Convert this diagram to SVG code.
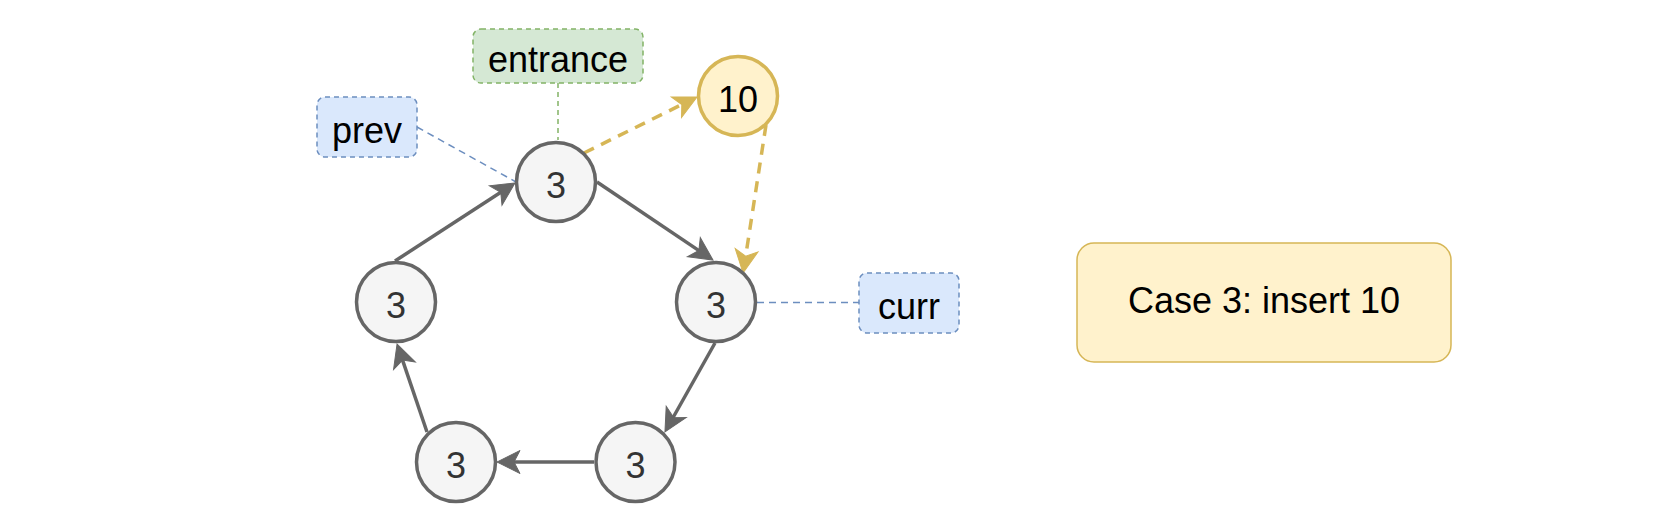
<svg xmlns="http://www.w3.org/2000/svg" width="1666" height="522" viewBox="0 0 1666 522">
  <style>
    text { font-family: "Liberation Sans", Arial, sans-serif; font-size: 36px; text-anchor: middle; }
    .node circle { fill: #f5f5f5; stroke: #666666; stroke-width: 3.5; }
    .node text { fill: #333333; }
    .new circle { fill: #fff2cc; stroke: #d6b656; stroke-width: 3.5; }
    .new text { fill: #000000; }
    .ptr rect { fill: #dae8fc; stroke: #6c8ebf; stroke-width: 1.5; stroke-dasharray: 5 4; }
    .ent rect { fill: #d5e8d4; stroke: #82b366; stroke-width: 1.5; stroke-dasharray: 5 4; }
    .case rect { fill: #fff2cc; stroke: #d6b656; stroke-width: 1.5; }
    .lbl { fill: #000000; }
    .edge { fill: none; stroke: #666666; stroke-width: 3.5; marker-end: url(#arrGray); }
    .ins { fill: none; stroke: #d6b656; stroke-width: 3.5; stroke-dasharray: 11 8; marker-end: url(#arrGold); }
    .blue { fill: none; stroke: #6c8ebf; stroke-width: 1.5; stroke-dasharray: 7 5; }
    .green { fill: none; stroke: #82b366; stroke-width: 1.5; stroke-dasharray: 5 4; }
  </style>
  <defs>
    <marker id="arrGray" markerUnits="userSpaceOnUse" viewBox="-25 -13 27 26" refX="-16" refY="0" markerWidth="27" markerHeight="26" orient="auto">
      <path d="M0,0 L-23,-11.5 L-17,0 L-23,11.5 Z" fill="#666666" stroke="#666666" stroke-width="1"/>
    </marker>
    <marker id="arrGold" markerUnits="userSpaceOnUse" viewBox="-25 -13 27 26" refX="-16" refY="0" markerWidth="27" markerHeight="26" orient="auto">
      <path d="M0,0 L-23,-11.5 L-17,0 L-23,11.5 Z" fill="#d6b656" stroke="#d6b656" stroke-width="1"/>
    </marker>
  </defs>
  <rect width="1666" height="522" fill="#ffffff"/>

  <g id="connectors">
    <line class="edge" x1="395" y1="261" x2="501.6" y2="191.7"/>
    <line class="edge" x1="597" y1="182" x2="699.7" y2="251.1"/>
    <line class="edge" x1="715" y1="343" x2="672.8" y2="418"/>
    <line class="edge" x1="594" y1="462" x2="513" y2="462"/>
    <line class="edge" x1="427" y1="432" x2="402.2" y2="359.1"/>
    <line class="ins" x1="584" y1="153" x2="682.7" y2="104.1"/>
    <line class="ins" x1="766" y1="125" x2="745.5" y2="257.2"/>
    <line class="blue" x1="417" y1="127" x2="516" y2="182"/>
    <line class="green" x1="558" y1="83" x2="558" y2="140"/>
    <line class="blue" x1="757" y1="302.5" x2="859" y2="302.5"/>
  </g>

  <g id="node-top" class="node">
    <circle cx="556" cy="182" r="39.5"/>
    <text x="556" y="198">3</text>
  </g>
  <g id="node-right" class="node">
    <circle cx="716" cy="302" r="39.5"/>
    <text x="716" y="318">3</text>
  </g>
  <g id="node-bottom-right" class="node">
    <circle cx="635.5" cy="462" r="39.5"/>
    <text x="635.5" y="478">3</text>
  </g>
  <g id="node-bottom-left" class="node">
    <circle cx="456" cy="462" r="39.5"/>
    <text x="456" y="478">3</text>
  </g>
  <g id="node-left" class="node">
    <circle cx="396" cy="302" r="39.5"/>
    <text x="396" y="318">3</text>
  </g>
  <g id="node-10" class="new">
    <circle cx="738" cy="96" r="39.5"/>
    <text x="738" y="112">10</text>
  </g>

  <g id="label-entrance" class="ent">
    <rect x="473" y="29" width="170" height="54" rx="8"/>
    <text class="lbl" x="558" y="72">entrance</text>
  </g>
  <g id="label-prev" class="ptr">
    <rect x="317" y="97" width="100" height="60" rx="8"/>
    <text class="lbl" x="367" y="143">prev</text>
  </g>
  <g id="label-curr" class="ptr">
    <rect x="859" y="273" width="100" height="60" rx="8"/>
    <text class="lbl" x="909" y="319">curr</text>
  </g>
  <g id="case-box" class="case">
    <rect x="1077" y="243" width="374" height="119" rx="17"/>
    <text class="lbl" x="1264" y="313">Case 3: insert 10</text>
  </g>
</svg>
